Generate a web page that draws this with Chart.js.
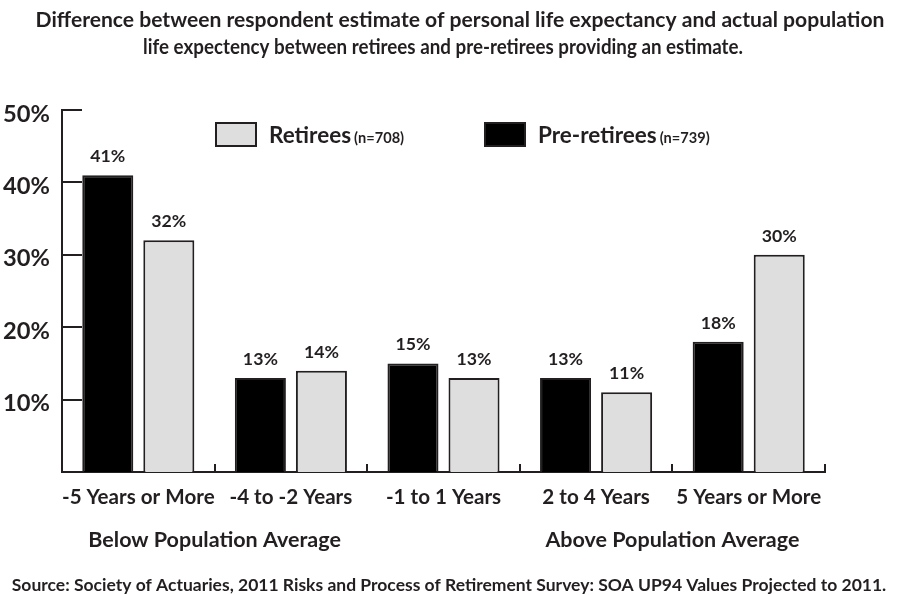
<!DOCTYPE html>
<html><head><meta charset="utf-8">
<script src="https://cdn.jsdelivr.net/npm/chart.js@4.4.0/dist/chart.umd.min.js"></script>
<style>html,body{margin:0;padding:0;background:#fff;}#wrap{width:897px;height:595px;}</style>
</head><body><div id="wrap"><canvas id="c" width="897" height="595"></canvas></div>
<script>
// ---- data ----
const titleLines = ['Difference between respondent estimate of personal life expectancy and actual population',
                    'life expectency between retirees and pre-retirees providing an estimate.'];
const categories = ['-5 Years or More', '-4 to -2 Years', '-1 to 1 Years', '2 to 4 Years', '5 Years or More'];
const preRetirees = [41, 13, 15, 13, 18];
const retirees = [32, 14, 13, 11, 30];
const seriesNames = ['Pre-retirees', 'Retirees'];
const seriesNotes = ['(n=739)', '(n=708)'];
const legendOrder = [1, 0];
const yTicks = [10, 20, 30, 40, 50];
const groupLabels = ['Below Population Average', 'Above Population Average'];
const groupCenters = [0.5, 3.5];
const sourceText = 'Source: Society of Actuaries, 2011 Risks and Process of Retirement Survey: SOA UP94 Values Projected to 2011.';

const FONT = "Lato, 'Liberation Sans', sans-serif";
const W = 'bold';
const INK = '#231f20';

// font sizes chosen so text widths match the reference
const mctx = document.createElement('canvas').getContext('2d');
function fit(text, target) {
  mctx.font = W + ' 100px ' + FONT;
  return Math.round(1000 * target / mctx.measureText(text).width) / 10;
}
const sTitle = fit(titleLines[0], 850);
const sYTick = fit('50%', 47);
const sXTick = fit(categories[0], 153);
const sGroup = fit(groupLabels[0], 252);
const sSource = fit(sourceText, 873);
const sLegend = fit('Retirees', 82);
const sNote = fit('(n=708)', 50);
const sValue = fit('41%', 35);

const decor = {
  id: 'decor',
  afterDatasetsDraw(chart) {
    const ctx = chart.ctx, ca = chart.chartArea;
    const xs = chart.scales.x, ys = chart.scales.y;
    ctx.save();
    // title
    ctx.fillStyle = INK; ctx.textAlign = 'center'; ctx.textBaseline = 'middle';
    ctx.font = W + ' ' + sTitle + 'px ' + FONT;
    ctx.fillText(titleLines[0], 460, 20);
    ctx.fillText(titleLines[1], 443, 47, 600);

    ctx.strokeStyle = INK; ctx.lineWidth = 2;
    // inward y ticks
    yTicks.forEach(v => {
      const y = Math.round(ys.getPixelForValue(v));
      ctx.beginPath(); ctx.moveTo(ca.left, y); ctx.lineTo(ca.left + 20, y); ctx.stroke();
    });
    // inward x boundary ticks
    for (let i = 1; i <= categories.length; i++) {
      const x = Math.round(xs.getPixelForValue(i - 0.5));
      ctx.beginPath(); ctx.moveTo(x, ca.bottom); ctx.lineTo(x, ca.bottom - 8); ctx.stroke();
    }
    // value labels
    ctx.fillStyle = INK; ctx.textAlign = 'center'; ctx.textBaseline = 'alphabetic';
    ctx.font = W + ' ' + sValue + 'px ' + FONT;
    chart.data.datasets.forEach((ds, di) => {
      chart.getDatasetMeta(di).data.forEach((el, i) => {
        ctx.fillText(ds.data[i] + '%', el.x, el.y - 13);
      });
    });
    // group labels
    ctx.font = W + ' ' + sGroup + 'px ' + FONT; ctx.textBaseline = 'middle';
    groupLabels.forEach((t, i) => {
      ctx.fillText(t, xs.getPixelForValue(groupCenters[i]), 540);
    });
    // source
    ctx.font = W + ' ' + sSource + 'px ' + FONT;
    ctx.fillText(sourceText, 449, 585);
    // legend
    const lx = [216, 485];
    legendOrder.forEach((di, k) => {
      const ds = chart.data.datasets[di];
      ctx.fillStyle = ds.backgroundColor;
      ctx.fillRect(lx[k], 123, 40, 23);
      ctx.strokeStyle = INK; ctx.lineWidth = 2;
      ctx.strokeRect(lx[k], 123, 40, 23);
      ctx.fillStyle = INK; ctx.textAlign = 'left'; ctx.textBaseline = 'alphabetic';
      ctx.font = W + ' ' + sLegend + 'px ' + FONT;
      const tx = lx[k] + 53;
      ctx.fillText(seriesNames[di], tx, 143);
      const w = ctx.measureText(seriesNames[di]).width;
      ctx.font = W + ' ' + sNote + 'px ' + FONT;
      ctx.fillText(seriesNotes[di], tx + w + 3, 143);
    });
    ctx.restore();
  }
};

new Chart(document.getElementById('c'), {
  type: 'bar',
  data: {
    labels: categories,
    datasets: [
      { label: seriesNames[0], data: preRetirees, backgroundColor: '#000000', borderColor: INK, borderWidth: 2,
        categoryPercentage: 0.8, barPercentage: 0.836 },
      { label: seriesNames[1], data: retirees, backgroundColor: '#dedede', borderColor: INK, borderWidth: 2,
        categoryPercentage: 0.8, barPercentage: 0.836 }
    ]
  },
  options: {
    responsive: false,
    animation: false,
    layout: { padding: { top: 110, right: 72, left: 0, bottom: 0 } },
    plugins: {
      legend: { display: false },
      tooltip: { enabled: false },
      title: { display: false }
    },
    scales: {
      x: {
        afterFit(s) { s.height = 123; },
        grid: { display: false, drawTicks: false },
        border: { display: true, color: INK, width: 2 },
        ticks: { color: INK, font: { family: FONT, size: sXTick, weight: W }, padding: 13, maxRotation: 0, autoSkip: false }
      },
      y: {
        min: 0, max: 50,
        afterFit(s) { s.width = 62; },
        grid: { display: false, drawTicks: false },
        border: { display: true, color: INK, width: 2 },
        ticks: { stepSize: 10, color: INK, padding: 12, labelOffset: 4,
          font: { family: FONT, size: sYTick, weight: W },
          callback: v => v === 0 ? '' : v + '%' }
      }
    }
  },
  plugins: [decor]
});
</script>
</body></html>
